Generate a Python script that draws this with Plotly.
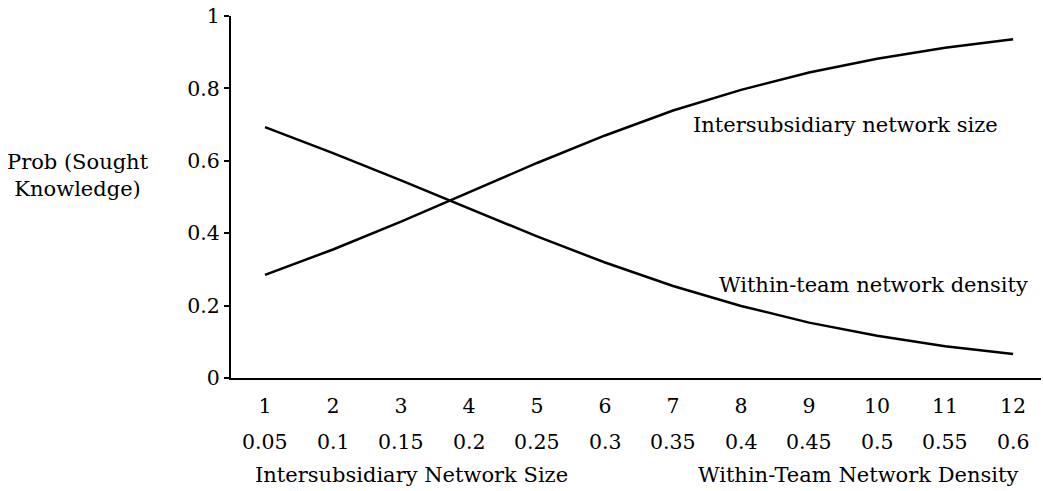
import plotly.graph_objects as go

# Data
network_size = [1, 2, 3, 4, 5, 6, 7, 8, 9, 10, 11, 12]
team_density = ["0.05", "0.1", "0.15", "0.2", "0.25", "0.3", "0.35", "0.4", "0.45", "0.5", "0.55", "0.6"]
prob_size = [0.285, 0.355, 0.432, 0.513, 0.594, 0.670, 0.739, 0.796, 0.844, 0.882, 0.912, 0.936]
prob_density = [0.693, 0.621, 0.546, 0.468, 0.391, 0.319, 0.254, 0.199, 0.153, 0.117, 0.088, 0.066]
y_ticks = [0, 0.2, 0.4, 0.6, 0.8, 1]
y_ticktext = ["0", "0.2", "0.4", "0.6", "0.8", "1"]

FONT = "DejaVu Serif"
FS = 21
TFS = 20.5

W, H = 1043, 491
L, R, T, B = 231, 2, 16, 113

def px_to_paper_x(px):
    return (px - L) / (W - L - R)

def px_to_paper_y(py):
    return (H - B - py) / (H - B - T)

fig = go.Figure()
fig.add_trace(go.Scatter(x=network_size, y=prob_size, mode="lines",
                         line=dict(color="black", width=2.5), name="Intersubsidiary network size"))
fig.add_trace(go.Scatter(x=network_size, y=prob_density, mode="lines",
                         line=dict(color="black", width=2.5), name="Within-team network density"))

blk = "black"
C = dict(xanchor="center", yanchor="middle", showarrow=False)
annotations = []
for xv, lab in zip(network_size, team_density):
    annotations.append(dict(x=xv, y=0, xref="x", yref="y", text=lab, showarrow=False,
                            yshift=-64, font=dict(family=FONT, size=TFS, color=blk)))
annotations += [
    dict(x=px_to_paper_x(411), y=px_to_paper_y(475), xref="paper", yref="paper",
         text="Intersubsidiary Network Size", font=dict(family=FONT, size=FS, color=blk), **C),
    dict(x=px_to_paper_x(858), y=px_to_paper_y(475), xref="paper", yref="paper",
         text="Within-Team Network Density", font=dict(family=FONT, size=FS, color=blk), **C),
    dict(x=9.53, y=0.699, xref="x", yref="y", text="Intersubsidiary network size",
         font=dict(family=FONT, size=FS, color=blk), **C),
    dict(x=9.94, y=0.257, xref="x", yref="y", text="Within-team network density",
         font=dict(family=FONT, size=FS, color=blk), **C),
    dict(x=px_to_paper_x(78), y=px_to_paper_y(175), xref="paper", yref="paper",
         text="Prob (Sought<br>Knowledge)", align="center",
         font=dict(family=FONT, size=FS, color=blk), **C),
]

fig.update_layout(
    width=W, height=H,
    margin=dict(l=L, r=R, t=T, b=B),
    paper_bgcolor="white", plot_bgcolor="white",
    showlegend=False,
    font=dict(family=FONT, size=FS, color=blk),
    xaxis=dict(range=[0.5, 12.41], tickmode="array", tickvals=network_size,
               ticktext=[str(v) for v in network_size], showgrid=False, zeroline=False,
               showline=True, linecolor=blk, linewidth=2, ticks="", ticklabelstandoff=8,
               tickfont=dict(family=FONT, size=TFS, color=blk)),
    yaxis=dict(range=[0, 1], tickmode="array", tickvals=y_ticks, ticktext=y_ticktext,
               showgrid=False, zeroline=False, showline=True, linecolor=blk, linewidth=2,
               ticks="outside", ticklen=5, tickwidth=1.5, tickcolor=blk,
               tickfont=dict(family=FONT, size=TFS, color=blk)),
    annotations=annotations,
)

fig.write_html("out.html", config={"displayModeBar": False},
               post_script="document.body.style.margin='0';document.body.style.padding='0';")
